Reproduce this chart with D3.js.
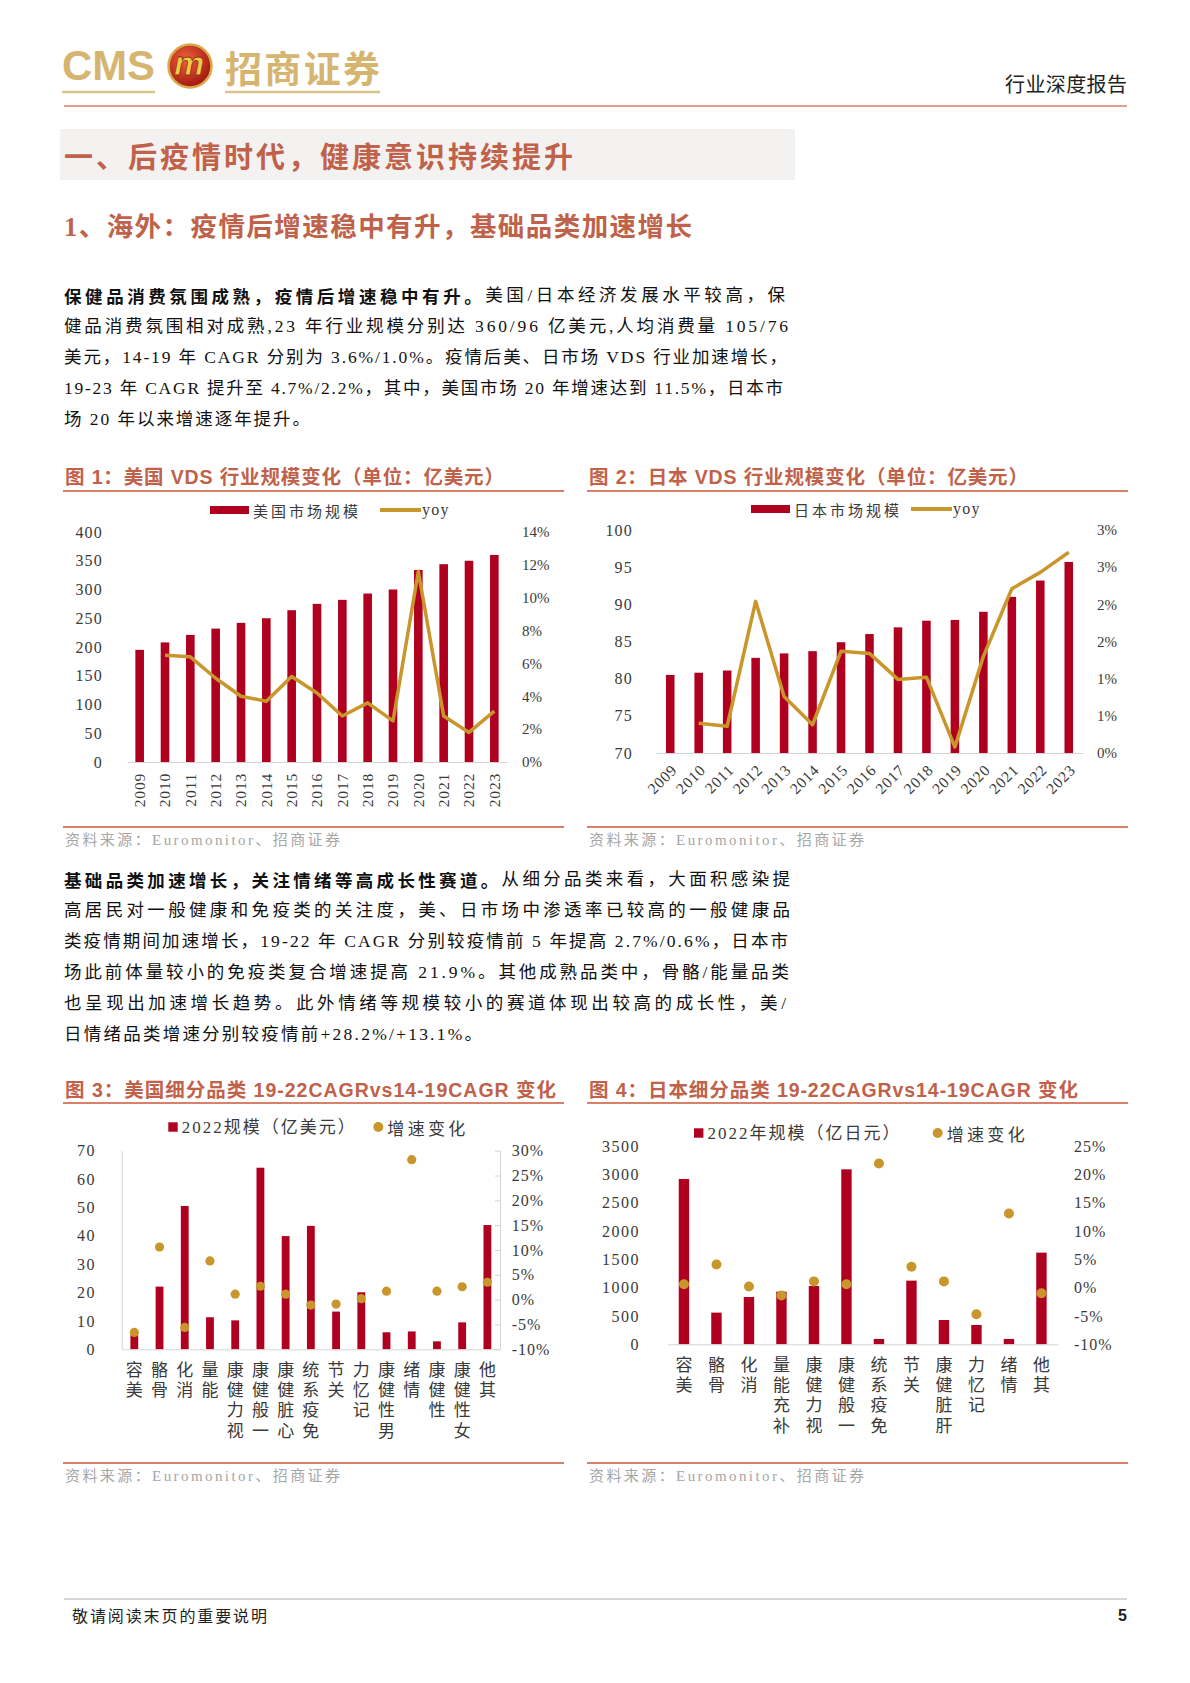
<!DOCTYPE html>
<html lang="zh">
<head>
    <meta charset="UTF-8">
    <title>行业深度报告</title>
    <style>
        body {
            margin: 0;
            background: #fff;
        }
    </style>
</head>
<body>
    <svg id="page" width="1190" height="1683"></svg>
    <script src="https://cdnjs.cloudflare.com/ajax/libs/d3/7.8.5/d3.min.js"></script>
    <script>
        // 图1 / 图2: 市场规模 + yoy
        var years = ['2009', '2010', '2011', '2012', '2013', '2014', '2015', '2016', '2017', '2018', '2019', '2020', '2021', '2022', '2023'];
        var usSize = [195, 208, 221, 232, 242, 250, 264, 275, 282, 293, 300, 334, 344, 350, 360];
        var usYoy = [null, 6.5, 6.4, 5.1, 4.0, 3.7, 5.2, 4.2, 2.8, 3.6, 2.5, 11.6, 2.8, 1.8, 3.1];
        var usLeftTicks = [0, 50, 100, 150, 200, 250, 300, 350, 400];
        var usRightTicks = [0, 2, 4, 6, 8, 10, 12, 14];

        var jpSize = [80.5, 80.8, 81.1, 82.8, 83.4, 83.7, 84.9, 86.0, 86.9, 87.8, 87.9, 89.0, 91.0, 93.2, 95.7];
        var jpYoy = [null, 0.40, 0.36, 2.04, 0.76, 0.38, 1.37, 1.34, 0.99, 1.02, 0.08, 1.30, 2.21, 2.43, 2.70];
        var jpLeftTicks = [70, 75, 80, 85, 90, 95, 100];
        var jpRightTicks = [0, 0.5, 1, 1.5, 2, 2.5, 3];
        var jpRightLabels = ['0%', '1%', '1%', '2%', '2%', '3%', '3%'];

        // 图3 / 图4: 细分品类
        var usCats = ['美容', '骨骼', '消化', '能量', '视力健康', '一般健康', '心脏健康', '免疫系统', '关节', '记忆力', '男性健康', '情绪', '性健康', '女性健康', '其他'];
        var usCatSize = [5, 22.1, 50.5, 11.3, 10.2, 64.0, 39.9, 43.5, 13.3, 20.1, 6.0, 6.3, 2.8, 9.5, 43.8];
        var usCatChg = [-6.6, 10.6, -5.6, 7.8, 1.1, 2.7, 1.1, -1.1, -0.9, 0.2, 1.7, 28.2, 1.7, 2.6, 3.5];
        var usCatLeftTicks = [0, 10, 20, 30, 40, 50, 60, 70];
        var usCatRightTicks = [-10, -5, 0, 5, 10, 15, 20, 25, 30];

        var jpCats = ['美容', '骨骼', '消化', '补充能量', '视力健康', '一般健康', '免疫系统', '关节', '肝脏健康', '记忆力', '情绪', '其他'];
        var jpCatSize = [2918, 559, 835, 929, 1029, 3088, 94, 1124, 429, 341, 94, 1618];
        var jpCatChg = [0.6, 4.1, 0.2, -1.4, 1.1, 0.6, 21.9, 3.7, 1.1, -4.7, 13.1, -1.0];
        var jpCatLeftTicks = [0, 500, 1000, 1500, 2000, 2500, 3000, 3500];
        var jpCatRightTicks = [-10, -5, 0, 5, 10, 15, 20, 25];

        var RED = '#b00020', GOLD = '#c9962c', SALMON = '#d98068', TITLE = '#c0624a';
        var AXIS = '#d4d4d4', LABEL = '#3a3a3a', SOURCE = '#a6a6a6';
        var SERIF = "'Liberation Serif', 'Noto Sans CJK SC', serif";
        var SANS = "'Liberation Sans', 'Noto Sans CJK SC', sans-serif";
        var CJK = "'Noto Sans CJK SC', sans-serif";

        var svg = d3.select('#page');

        function text(g, x, y, s, size, opts) {
            opts = opts || {};
            var t = g.append('text')
                .attr('x', x).attr('y', y)
                .attr('font-size', size)
                .attr('font-family', opts.family || SERIF)
                .attr('font-weight', opts.weight || 'normal')
                .attr('fill', opts.fill || '#222')
                .attr('dominant-baseline', 'central')
                .attr('text-anchor', opts.anchor || 'start')
                .text(s);
            if (opts.len) t.attr('textLength', opts.len).attr('lengthAdjust', opts.adjust || 'spacing');
            if (opts.ls) t.attr('letter-spacing', opts.ls);
            return t;
        }

        // ---------- header ----------
        var defs = svg.append('defs');
        var grad = defs.append('radialGradient').attr('id', 'logoGrad').attr('cx', '40%').attr('cy', '35%').attr('r', '70%');
        grad.append('stop').attr('offset', '0%').attr('stop-color', '#f0603a');
        grad.append('stop').attr('offset', '100%').attr('stop-color', '#9e140e');

        svg.append('text').attr('x', 62).attr('y', 80).text('CMS')
            .attr('font-family', SANS).attr('font-weight', 'bold').attr('font-size', 42)
            .attr('fill', '#d5b56f').attr('textLength', 93).attr('lengthAdjust', 'spacingAndGlyphs');
        svg.append('circle').attr('cx', 190).attr('cy', 66).attr('r', 21.5)
            .attr('fill', 'url(#logoGrad)').attr('stroke', '#d9aa4a').attr('stroke-width', 2.5);
        svg.append('text').attr('x', 189).attr('y', 75).text('m')
            .attr('font-family', SANS).attr('font-weight', 'bold').attr('font-style', 'italic')
            .attr('font-size', 34).attr('text-anchor', 'middle')
            .attr('fill', '#f3c84a').attr('stroke', '#8a3a10').attr('stroke-width', 0.8);
        text(svg, 225, 67, '招商证券', 37, { family: CJK, weight: 'bold', fill: '#d5b56f', len: 155 });
        svg.append('line').attr('x1', 62).attr('x2', 155).attr('y1', 92).attr('y2', 92).attr('stroke', '#d9c48e').attr('stroke-width', 2.5);
        svg.append('line').attr('x1', 225).attr('x2', 380).attr('y1', 92).attr('y2', 92).attr('stroke', '#d9c48e').attr('stroke-width', 2.5);

        text(svg, 1127, 83, '行业深度报告', 20, { family: CJK, anchor: 'end', fill: '#222', len: 122 });
        svg.append('line').attr('x1', 64).attr('x2', 1127).attr('y1', 106).attr('y2', 106).attr('stroke', SALMON).attr('stroke-width', 1.5);

        svg.append('rect').attr('x', 60).attr('y', 129).attr('width', 735).attr('height', 51).attr('fill', '#f4f1f1');
        text(svg, 64, 155, '一、后疫情时代，健康意识持续提升', 29, { family: CJK, weight: 'bold', fill: TITLE, len: 509 });
        text(svg, 64, 227, '1、海外：疫情后增速稳中有升，基础品类加速增长', 26.5, { family: SERIF, weight: 'bold', fill: TITLE, len: 628 });

        // ---------- paragraphs ----------
        function paragraph(lines, y0, lh) {
            lines.forEach(function (ln, i) {
                var t = svg.append('text')
                    .attr('x', 64).attr('y', y0 + i * lh)
                    .attr('font-size', 17.5).attr('font-family', SERIF).attr('fill', '#111')
                    .attr('dominant-baseline', 'central')
                    .attr('textLength', ln.w).attr('lengthAdjust', 'spacing');
                ln.parts.forEach(function (p) {
                    t.append('tspan').attr('font-weight', p[1] ? 'bold' : 'normal')
                        .attr('font-family', p[1] ? CJK : SERIF).text(p[0]);
                });
            });
        }

        paragraph([
            { w: 721, parts: [['保健品消费氛围成熟，疫情后增速稳中有升。', 1], ['美国/日本经济发展水平较高，保', 0]] },
            { w: 724, parts: [['健品消费氛围相对成熟,23 年行业规模分别达 360/96 亿美元,人均消费量 105/76', 0]] },
            { w: 723, parts: [['美元，14-19 年 CAGR 分别为 3.6%/1.0%。疫情后美、日市场 VDS 行业加速增长，', 0]] },
            { w: 719, parts: [['19-23 年 CAGR 提升至 4.7%/2.2%，其中，美国市场 20 年增速达到 11.5%，日本市', 0]] },
            { w: 246, parts: [['场 20 年以来增速逐年提升。', 0]] }
        ], 295, 31);

        paragraph([
            { w: 726, parts: [['基础品类加速增长，关注情绪等高成长性赛道。', 1], ['从细分品类来看，大面积感染提', 0]] },
            { w: 726, parts: [['高居民对一般健康和免疫类的关注度，美、日市场中渗透率已较高的一般健康品', 0]] },
            { w: 724, parts: [['类疫情期间加速增长，19-22 年 CAGR 分别较疫情前 5 年提高 2.7%/0.6%，日本市', 0]] },
            { w: 725, parts: [['场此前体量较小的免疫类复合增速提高 21.9%。其他成熟品类中，骨骼/能量品类', 0]] },
            { w: 722, parts: [['也呈现出加速增长趋势。此外情绪等规模较小的赛道体现出较高的成长性，美/', 0]] },
            { w: 418, parts: [['日情绪品类增速分别较疫情前+28.2%/+13.1%。', 0]] }
        ], 879, 31);

        // ---------- chart frame (title, rules, source) ----------
        function frame(x0, x1, titleStr, titleLen, yTitle, yRule, ySrcRule) {
            text(svg, x0 + 2, yTitle, titleStr, 19.5, { family: SANS, weight: 'bold', fill: TITLE, len: titleLen });
            svg.append('line').attr('x1', x0).attr('x2', x1).attr('y1', yRule).attr('y2', yRule).attr('stroke', SALMON).attr('stroke-width', 2);
            svg.append('line').attr('x1', x0).attr('x2', x1).attr('y1', ySrcRule).attr('y2', ySrcRule).attr('stroke', SALMON).attr('stroke-width', 2);
            text(svg, x0 + 2, ySrcRule + 13, '资料来源：Euromonitor、招商证券', 15, { fill: SOURCE, len: 275 });
        }

        function styleAxisText(sel, size) {
            sel.attr('font-size', null).attr('font-family', null);
            sel.selectAll('text').attr('font-size', size).attr('font-family', SERIF).attr('fill', LABEL);
        }

        // ---------- bar + line charts ----------
        function comboChart(c) {
            var g = svg.append('g');
            var x = d3.scaleBand().domain(c.cats).range([c.x0, c.x1]).paddingInner(c.pad).paddingOuter(c.pad / 2);
            var yL = d3.scaleLinear().domain(c.leftDomain).range([c.yBase, c.yTop]);
            var yR = d3.scaleLinear().domain(c.rightDomain).range([c.yBase, c.yTop]);

            g.selectAll('rect.bar')
                .data(c.bars)
                .enter()
                .append('rect')
                .attr('class', 'bar')
                .attr('x', (d, i) => x(c.cats[i]))
                .attr('width', x.bandwidth())
                .attr('y', d => yL(d))
                .attr('height', d => c.yBase - yL(d))
                .attr('fill', RED);

            var xAxis = g.append('g')
                .attr('transform', `translate(0,${c.yBase})`)
                .call(d3.axisBottom(x).tickSize(0).tickSizeOuter(0));
            styleAxisText(xAxis, 15.5);
            xAxis.select('.domain').attr('stroke', AXIS);
            xAxis.selectAll('text')
                .attr('y', 0).attr('dy', '0.35em')
                .attr('text-anchor', 'end')
                .attr('letter-spacing', 0.8)
                .attr('transform', c.rotate === -90 ? 'translate(0,11) rotate(-90)' : 'translate(4,14) rotate(-45)');

            var left = g.append('g')
                .attr('transform', `translate(${c.leftEdge},0)`)
                .call(d3.axisLeft(yL).tickValues(c.leftTicks).tickSize(0).tickPadding(0));
            left.select('.domain').remove();
            styleAxisText(left, 16);
            left.selectAll('text').attr('letter-spacing', 1.2);

            var right = g.append('g')
                .attr('transform', `translate(${c.rightEdge},0)`)
                .call(d3.axisRight(yR).tickValues(c.rightTicks).tickSize(0).tickPadding(0).tickFormat(c.rightFmt));
            right.select('.domain').remove();
            styleAxisText(right, 15);

            var line = d3.line()
                .defined(d => d != null)
                .x((d, i) => x(c.cats[i]) + x.bandwidth() / 2)
                .y(d => yR(d));
            g.append('path')
                .datum(c.line)
                .attr('d', line)
                .attr('fill', 'none')
                .attr('stroke', GOLD)
                .attr('stroke-width', 3.5)
                .attr('stroke-linejoin', 'round');

            // legend
            var lg = c.legend;
            g.append('rect').attr('x', lg.x).attr('y', lg.y - 4).attr('width', 39).attr('height', 8).attr('fill', RED);
            text(g, lg.x + 43, lg.y, lg.label, 15, { family: CJK, fill: LABEL, len: 105 });
            g.append('line').attr('x1', lg.lx).attr('x2', lg.lx + 41).attr('y1', lg.y).attr('y2', lg.y).attr('stroke', GOLD).attr('stroke-width', 4);
            text(g, lg.lx + 42, lg.y - 1, 'yoy', 16, { fill: LABEL, ls: 1.2 });
        }

        frame(63, 564, '图 1：美国 VDS 行业规模变化（单位：亿美元）', 439, 477, 491, 827);
        comboChart({
            cats: years, bars: usSize, line: usYoy, pad: 0.66,
            x0: 127, x1: 507, yBase: 762, yTop: 532,
            leftDomain: [0, 400], rightDomain: [0, 14],
            leftTicks: usLeftTicks, rightTicks: usRightTicks, rightFmt: d => d + '%',
            leftEdge: 103, rightEdge: 522, rotate: -90,
            legend: { x: 210, y: 510, label: '美国市场规模', lx: 380 }
        });

        frame(587, 1128, '图 2：日本 VDS 行业规模变化（单位：亿美元）', 439, 477, 491, 827);
        comboChart({
            cats: years, bars: jpSize, line: jpYoy, pad: 0.7,
            x0: 656, x1: 1083, yBase: 753, yTop: 530,
            leftDomain: [70, 100], rightDomain: [0, 3],
            leftTicks: jpLeftTicks, rightTicks: jpRightTicks, rightFmt: (d, i) => jpRightLabels[i],
            leftEdge: 633, rightEdge: 1097, rotate: -45,
            legend: { x: 751, y: 509, label: '日本市场规模', lx: 911 }
        });

        // ---------- bar + dot charts ----------
        function dotChart(c) {
            var g = svg.append('g');
            var x = d3.scaleBand().domain(c.cats).range([c.x0, c.x1]).paddingInner(c.pad).paddingOuter(c.pad / 2);
            var yL = d3.scaleLinear().domain(c.leftDomain).range([c.yBase, c.yTop]);
            var yR = d3.scaleLinear().domain(c.rightDomain).range([c.yBase, c.yTop]);

            g.selectAll('rect.bar')
                .data(c.bars)
                .enter()
                .append('rect')
                .attr('class', 'bar')
                .attr('x', (d, i) => x(c.cats[i]))
                .attr('width', x.bandwidth())
                .attr('y', d => yL(d))
                .attr('height', d => c.yBase - yL(d))
                .attr('fill', RED);

            var left = g.append('g')
                .attr('transform', `translate(${c.x0},0)`)
                .call(d3.axisLeft(yL).tickValues(c.leftTicks).tickSize(0).tickPadding(c.x0 - c.leftEdge).tickFormat(d3.format('d')));
            styleAxisText(left, 16);
            left.selectAll('text').attr('letter-spacing', 1.5);
            if (c.frameAxes) left.select('.domain').attr('stroke', AXIS);
            else left.select('.domain').remove();

            var right = g.append('g')
                .attr('transform', `translate(${c.x1},0)`)
                .call(d3.axisRight(yR).tickValues(c.rightTicks).tickSizeInner(c.frameAxes ? -5 : 0).tickSizeOuter(0)
                    .tickPadding(c.rightEdge - c.x1).tickFormat(d => d + '%'));
            styleAxisText(right, 16);
            right.selectAll('text').attr('letter-spacing', 1);
            right.selectAll('.tick line').attr('stroke', AXIS);
            if (c.frameAxes) right.select('.domain').attr('stroke', AXIS);
            else right.select('.domain').remove();

            var xAxis = g.append('g')
                .attr('transform', `translate(0,${c.yBase})`)
                .call(d3.axisBottom(x).tickSize(0).tickSizeOuter(0));
            xAxis.attr('font-size', null).attr('font-family', null);
            xAxis.select('.domain').attr('stroke', AXIS);
            // upright characters read bottom-to-top, last character nearest the axis
            xAxis.selectAll('.tick text')
                .text(d => d.split('').reverse().join(''))
                .attr('x', 0).attr('y', 11.5).attr('dy', null)
                .attr('font-size', 17).attr('font-family', CJK).attr('fill', LABEL)
                .attr('text-anchor', 'start')
                .attr('letter-spacing', 3.3)
                .style('writing-mode', 'vertical-rl');

            g.selectAll('circle.dot')
                .data(c.dots)
                .enter()
                .append('circle')
                .attr('class', 'dot')
                .attr('cx', (d, i) => x(c.cats[i]) + x.bandwidth() / 2)
                .attr('cy', d => yR(d))
                .attr('r', c.r)
                .attr('fill', GOLD);

            var lg = c.legend;
            g.append('rect').attr('x', lg.x).attr('y', lg.y - 4.7).attr('width', 9.4).attr('height', 9.4).attr('fill', RED);
            text(g, lg.x + 13.5, lg.y, lg.label, 17, { family: SERIF, fill: LABEL, len: lg.len });
            g.append('circle').attr('cx', lg.dx).attr('cy', lg.y).attr('r', 5).attr('fill', GOLD);
            text(g, lg.dx + 9, lg.y, '增速变化', 17, { family: CJK, fill: LABEL, len: 78 });
        }

        frame(63, 564, '图 3：美国细分品类 19-22CAGRvs14-19CAGR 变化', 491, 1090, 1103, 1463);
        dotChart({
            cats: usCats, bars: usCatSize, dots: usCatChg, pad: 0.69, r: 4.6,
            x0: 121.7, x1: 500, yBase: 1349.3, yTop: 1150.7,
            leftDomain: [0, 70], rightDomain: [-10, 30],
            leftTicks: usCatLeftTicks, rightTicks: usCatRightTicks,
            leftEdge: 96, rightEdge: 511.7, frameAxes: true,
            legend: { x: 168.3, y: 1127, label: '2022规模（亿美元）', len: 173, dx: 378.3 }
        });

        frame(587, 1128, '图 4：日本细分品类 19-22CAGRvs14-19CAGR 变化', 489, 1090, 1103, 1463);
        dotChart({
            cats: jpCats, bars: jpCatSize, dots: jpCatChg, pad: 0.68, r: 5,
            x0: 667.7, x1: 1057.7, yBase: 1344.3, yTop: 1146,
            leftDomain: [0, 3500], rightDomain: [-10, 25],
            leftTicks: jpCatLeftTicks, rightTicks: jpCatRightTicks,
            leftEdge: 640, rightEdge: 1074, frameAxes: false,
            legend: { x: 694, y: 1133, label: '2022年规模（亿日元）', len: 192, dx: 937.7 }
        });

        // ---------- footer ----------
        svg.append('line').attr('x1', 64).attr('x2', 1127).attr('y1', 1599).attr('y2', 1599).attr('stroke', '#c8c8c8').attr('stroke-width', 1.5);
        text(svg, 72, 1615, '敬请阅读末页的重要说明', 16, { family: CJK, fill: '#222', len: 195 });
        text(svg, 1127, 1615, '5', 16, { family: SANS, weight: 'bold', anchor: 'end', fill: '#222' });
    </script>
</body>
</html>
